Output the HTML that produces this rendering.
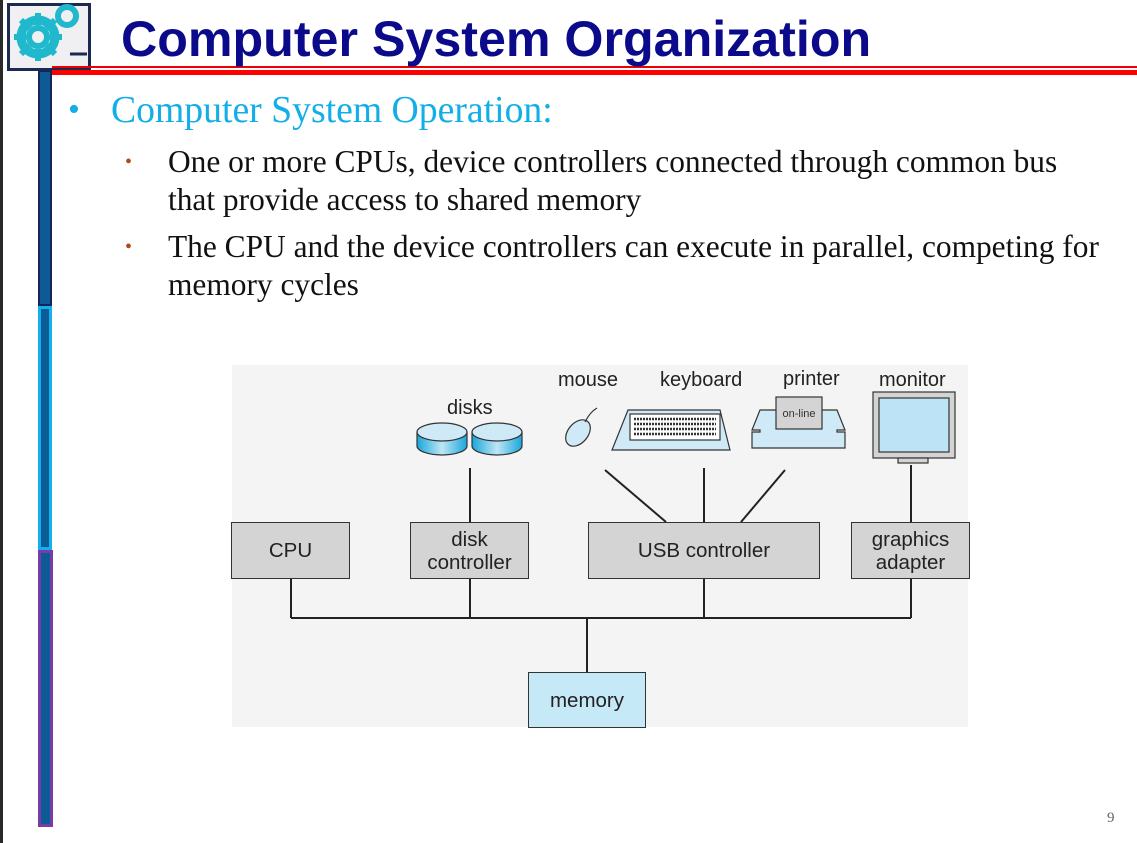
<!DOCTYPE html>
<html><head><style>
body{margin:0;width:1137px;height:843px;background:#fff;position:relative;overflow:hidden;font-family:"Liberation Serif",serif}
.a{position:absolute}
.box{position:absolute;background:#d4d4d4;border:1.5px solid #333;box-sizing:border-box;display:flex;align-items:center;justify-content:center;text-align:center;font-family:"Liberation Sans",sans-serif;font-size:20.5px;line-height:23px;color:#222}
.lbl{position:absolute;font-family:"Liberation Sans",sans-serif;font-size:20px;color:#222}
</style></head><body>
<div class="a" style="left:0;top:0;width:3px;height:843px;background:#2a2a2a"></div>
<div class="a" style="left:7px;top:3px;width:84px;height:68px;background:#f0f0f2;border:3px solid #1c2a52;box-sizing:border-box"></div>
<svg class="a" style="left:7px;top:0" width="90" height="75">
<circle cx="31" cy="37" r="17" fill="none" stroke="#1fb8cc" stroke-width="9"/>
<g stroke="#1fb8cc" stroke-width="6"><line x1="31" y1="13" x2="31" y2="61"/><line x1="7" y1="37" x2="55" y2="37"/><line x1="14" y1="20" x2="48" y2="54"/><line x1="48" y1="20" x2="14" y2="54"/></g>
<circle cx="31" cy="37" r="12" fill="#f0f0f2"/>
<circle cx="31" cy="37" r="9" fill="none" stroke="#1fb8cc" stroke-width="6"/>
<circle cx="60" cy="16" r="9" fill="none" stroke="#1fb8cc" stroke-width="6"/>
<line x1="63" y1="54" x2="80" y2="54" stroke="#1c2a52" stroke-width="3"/>
</svg>
<div class="a" style="left:38px;top:70px;width:14px;height:236px;background:#0d5b94;border:2px solid #16245a;box-sizing:border-box"></div>
<div class="a" style="left:38px;top:306px;width:14px;height:244px;background:#0d5b94;border:3px solid #12b0ec;box-sizing:border-box"></div>
<div class="a" style="left:38px;top:550px;width:15px;height:277px;background:#0d5b94;border:3px solid #7a3aa8;box-sizing:border-box"></div>
<div class="a" style="left:52px;top:66px;width:1085px;height:2px;background:#e00"></div>
<div class="a" style="left:52px;top:70px;width:1085px;height:5px;background:#f00"></div>
<div class="a" style="left:121px;top:10px;font-family:'Liberation Sans',sans-serif;font-weight:bold;font-size:50.2px;color:#0a0a8a;line-height:58px;white-space:nowrap">Computer System Organization</div>
<div class="a" style="left:68px;top:89px;font-size:34px;color:#12aee8;line-height:42px">•</div>
<div class="a" style="left:111px;top:89px;font-size:37.7px;color:#12aee8;line-height:42px;white-space:nowrap">Computer System Operation:</div>
<div class="a" style="left:125px;top:148px;font-size:20px;color:#b04a1a;line-height:28px">•</div>
<div class="a" style="left:168px;top:143px;font-size:31.4px;color:#111;line-height:38px;width:965px;white-space:nowrap">One or more CPUs, device controllers connected through common bus<br>that provide access to shared memory</div>
<div class="a" style="left:125px;top:233px;font-size:20px;color:#b04a1a;line-height:28px">•</div>
<div class="a" style="left:168px;top:228px;font-size:31.4px;color:#111;line-height:38px;width:965px;white-space:nowrap">The CPU and the device controllers can execute in parallel, competing for<br>memory cycles</div>
<div class="a" style="left:232px;top:365px;width:736px;height:362px;background:#f4f4f4"></div>
<svg class="a" style="left:0;top:0" width="1137" height="843">
<g stroke="#222" stroke-width="2" fill="none">
<line x1="291" y1="578" x2="291" y2="618"/><line x1="291" y1="618" x2="911" y2="618"/>
<line x1="470" y1="468" x2="470" y2="618"/><line x1="704" y1="468" x2="704" y2="522"/><line x1="704" y1="578" x2="704" y2="618"/>
<line x1="911" y1="465" x2="911" y2="618"/><line x1="587" y1="618" x2="587" y2="672"/>
<line x1="605" y1="470" x2="666" y2="522"/><line x1="785" y1="470" x2="741" y2="522"/>
</g>
<defs><linearGradient id="g" x1="0" x2="1"><stop offset="0" stop-color="#19a6dc"/><stop offset=".5" stop-color="#bfe6f4"/><stop offset="1" stop-color="#19a6dc"/></linearGradient></defs>
<g stroke="#333" stroke-width="1.2">
<path d="M417 432 v14 a25 9 0 0 0 50 0 v-14" fill="url(#g)"/><ellipse cx="442" cy="432" rx="25" ry="9" fill="#cfeaf6"/>
<path d="M472 432 v14 a25 9 0 0 0 50 0 v-14" fill="url(#g)"/><ellipse cx="497" cy="432" rx="25" ry="9" fill="#cfeaf6"/>
<ellipse cx="578" cy="433" rx="10" ry="15" transform="rotate(40 578 433)" fill="#cfeaf6"/>
<path d="M585 422 q5-10 12-14" fill="none"/>
<path d="M628 410 h92 l10 40 h-118 z" fill="#cfeaf6"/>
<rect x="630" y="414" width="90" height="26" fill="#fff"/>
<path d="M760 410 l-8 20 h8 v2 h-8 v16 h93 v-16 h-8 v-2 h8 l-8-20 z" fill="#cfeaf6"/>
<rect x="776" y="397" width="46" height="32" fill="#d4d4d4"/>
<rect x="873" y="392" width="82" height="66" fill="#d4d4d4"/>
<rect x="879" y="398" width="70" height="54" fill="#bde4f6"/>
<rect x="898" y="458" width="30" height="5" fill="#d4d4d4"/>
</g>
<g stroke="#333" stroke-width="2.5" stroke-dasharray="2 1"><line x1="634" y1="419" x2="716" y2="419"/><line x1="634" y1="424" x2="716" y2="424"/><line x1="634" y1="429" x2="716" y2="429"/><line x1="634" y1="434" x2="716" y2="434"/></g>
<text x="799" y="417" font-family="Liberation Sans" font-size="11" fill="#333" text-anchor="middle">on-line</text>
</svg>
<div class="lbl" style="left:447px;top:397px">disks</div>
<div class="lbl" style="left:558px;top:369px">mouse</div>
<div class="lbl" style="left:660px;top:369px">keyboard</div>
<div class="lbl" style="left:783px;top:368px">printer</div>
<div class="lbl" style="left:879px;top:369px">monitor</div>
<div class="box" style="left:231px;top:522px;width:119px;height:57px">CPU</div>
<div class="box" style="left:410px;top:522px;width:119px;height:57px">disk<br>controller</div>
<div class="box" style="left:588px;top:522px;width:232px;height:57px">USB controller</div>
<div class="box" style="left:851px;top:522px;width:119px;height:57px">graphics<br>adapter</div>
<div class="box" style="left:528px;top:672px;width:118px;height:56px;background:#c5e9f7">memory</div>
<div class="a" style="left:1107px;top:810px;font-size:15px;color:#666">9</div>
</body></html>
